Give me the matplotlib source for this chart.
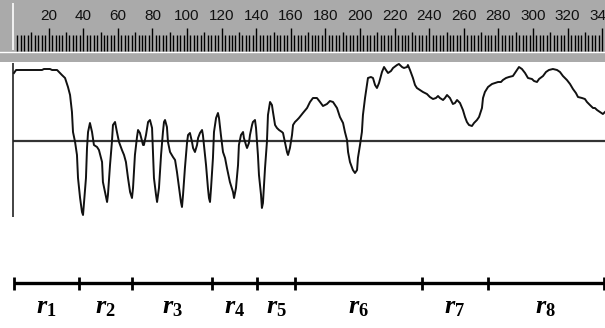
import matplotlib
matplotlib.use('Agg')
import matplotlib.pyplot as plt
import numpy as np

# signal trace, x in ruler units, y relative to the zero line
sig_x = [0, 1.2, 16.2, 17.3, 20.8, 22, 24.9, 27.7, 29.5, 31.2, 32.4, 33.5, 34.1, 35.3, 36.4, 37, 38.2, 39.3, 39.9,
         40.5, 41.6, 42.2, 42.8, 43.9, 45.1, 46.2, 48, 49.1, 50.9, 51.4, 52.6, 53.8, 54.3, 55.5, 56.6, 57.2, 58.4,
         59.5, 60.7, 62.4, 63.6, 64.7, 65.9, 67.1, 68.2, 68.8, 69.9, 71.1, 71.7, 72.8, 74.6, 75.1, 76.3, 77.5, 78.6,
         79.8, 80.3, 80.9, 82.1, 82.7, 83.8, 85, 86.1, 86.7, 87.3, 88.4, 89, 90.2, 91.9, 93.1, 94.2, 95.4, 96.5,
         97.1, 97.7, 98.8, 100, 100.6, 101.7, 102.9, 103.5, 104.6, 105.8, 106.4, 107.5, 108.7, 109.2, 109.8, 111,
         112.1, 112.7, 113.3, 113.9, 115, 115.6, 116.8, 117.9, 118.5, 119.6, 120.8, 122, 123.1, 124.8, 126.6, 127.2,
         128.3, 129.5, 130, 131.2, 132.4, 132.9, 134.1, 134.7, 135.8, 136.4, 137.6, 138.1, 139.3, 139.9, 140.5, 141,
         141.6, 142.8, 143.3, 143.9, 145.1, 146.2, 146.8, 148, 149.1, 149.7, 150.9, 152, 153.2, 154.9, 155.5, 156.6,
         157.8, 158.4, 159.5, 160.7, 161.3, 162.4, 163.6, 164.7, 167, 169.4, 171.1, 172.8, 175.1, 176.9, 178.6,
         180.9, 182.6, 184.4, 186.7, 188.4, 190.2, 191.3, 192.5, 193.1, 194.2, 195.9, 197.1, 198.3, 198.8, 200,
         201.1, 201.7, 202.9, 204, 204.6, 206.3, 207.5, 208.7, 209.8, 211, 212.7, 213.9, 215, 216.2, 217.9, 219.1,
         221.4, 222.5, 224.3, 225.4, 227.2, 227.7, 228.9, 230.6, 231.8, 232.9, 234.7, 236.4, 238.7, 240.4, 242.2,
         243.9, 245.1, 246.2, 248, 249.1, 250.3, 252, 253.7, 254.9, 256.1, 257.8, 259.5, 260.7, 261.8, 263, 264.7,
         265.9, 267.6, 268.8, 270.5, 271.1, 272.2, 274, 276.3, 278, 279.8, 281.5, 282.6, 284.4, 286.1, 288.4, 290.7,
         291.9, 293.6, 295.4, 297.1, 299.4, 300.6, 302.3, 303.5, 305.8, 307.5, 309.2, 311.5, 313.9, 315.6, 317.3,
         319.6, 321.4, 323.1, 324.8, 326, 328.3, 330, 331.2, 332.9, 334.7, 335.8, 337, 338.7, 340.4, 341.6]
sig_y = [68, 71, 71, 72, 72, 71, 71, 66, 63, 54, 46, 29, 9, -1, -14, -37, -57, -71, -74,
         -61, -37, -7, 9, 18, 9, -4, -6, -9, -21, -41, -51, -61, -54, -24, -1, 16, 19,
         9, -1, -9, -14, -21, -37, -51, -57, -47, -14, 4, 11, 8, -4, -4, 6, 19, 21,
         13, -11, -37, -54, -61, -47, -14, 9, 19, 21, 14, -1, -11, -16, -19, -31, -47, -61,
         -66, -54, -27, -2, 6, 8, -1, -7, -11, -4, 3, 8, 11, 6, -4, -24,
         -47, -57, -61, -47, -17, 9, 23, 28, 23, 6, -11, -17, -27, -41, -51, -57,
         -47, -24, -4, 6, 9, 3, -4, -7, -2, 6, 16, 19, 21, 13, -1, -14,
         -34, -54, -67, -62, -27, -1, 26, 39, 36, 29, 16, 13, 11, 9, 8, -1,
         -11, -14, -7, 6, 16, 19, 21, 23, 28, 33, 39, 43, 43, 39, 35,
         37, 40, 39, 33, 24, 18, 9, 1, -11, -21, -29, -32, -29, -17, -4,
         9, 26, 43, 56, 63, 64, 63, 56, 53, 58, 69, 74, 71, 68, 70, 73,
         76, 77, 74, 73, 74, 76, 71, 63, 56, 53, 51, 49, 47, 44, 42,
         43, 45, 43, 41, 43, 46, 43, 37, 38, 41, 38, 31, 24, 19, 16, 15,
         18, 21, 24, 33, 43, 49, 54, 57, 58, 59, 59, 61, 63, 64, 65, 71,
         74, 72, 68, 63, 62, 60, 59, 62, 65, 69, 71, 72, 71, 69, 65,
         61, 57, 52, 48, 44, 43, 42, 39, 36, 33, 33, 31, 29, 27, 29]

# region boundaries (ruler units) and labels
bounds = [0, 37.6, 68.2, 114.4, 140.5, 162.4, 235.6, 273.9, 341]
regions = ['r_1', 'r_2', 'r_3', 'r_4', 'r_5', 'r_6', 'r_7', 'r_8']
ruler_labels = list(range(20, 341, 20))

W, H = 605, 328
PX = 1.73  # pixels per ruler unit
XL = (-14 / PX, (W - 14) / PX)

plt.rcParams['mathtext.fontset'] = 'custom'
plt.rcParams['mathtext.it'] = 'Liberation Serif:italic:bold'
plt.rcParams['mathtext.rm'] = 'Liberation Serif:bold'

fig = plt.figure(figsize=(W / 100, H / 100), dpi=100)


def band(top, bottom):
    ax = fig.add_axes([0, 1 - bottom / H, 1, (bottom - top) / H])
    ax.set_xlim(*XL)
    ax.axis('off')
    return ax


# ruler on top
ax_r = band(0, 62)
ax_r.set_ylim(62, 0)
ax_r.axis('on')
ax_r.set_facecolor('#aaaaaa')
for s in ax_r.spines.values():
    s.set_visible(False)
ax_r.set_xticks([])
ax_r.set_yticks([])
ax_r.axhline(52, color='white', lw=1.0)
ax_r.vlines(-0.7, 3, 50, color='white', lw=1.2)
ticks = np.arange(2, 342, 2)
minor = [t for t in ticks if t % 10]
mid = [t for t in ticks if t % 10 == 0 and t % 20]
major = [t for t in ticks if t % 20 == 0]
ax_r.vlines(minor, 35, 51, color='black', lw=1.0)
ax_r.vlines(mid, 32, 51, color='black', lw=1.0)
ax_r.vlines(major, 28, 51, color='black', lw=1.0)
for v in ruler_labels:
    ax_r.text(v, 16, str(v), ha='center', va='center', fontsize=11, color='#111111',
              family='Liberation Sans')

# signal
ax_s = band(62, 220)
ax_s.set_ylim(-79, 79)
ax_s.hlines(0, -0.6, XL[1], color='#333333', lw=1.6)
ax_s.vlines(-0.6, -76, 78, color='#222222', lw=1.2)
ax_s.plot(sig_x, sig_y, color='#111111', lw=1.4)

# region bar
ax_b = band(262, 328)
ax_b.set_ylim(328, 262)
ax_b.hlines(283, bounds[0], bounds[-1], color='black', lw=2.4)
ax_b.vlines(bounds, 277, 290, color='black', lw=2.0)
for i, name in enumerate(regions):
    mx = (bounds[i] + bounds[i + 1]) / 2
    ax_b.text(mx, 306, '$' + name + '$', ha='center', va='center', fontsize=19)

fig.savefig('out.png', dpi=100)
